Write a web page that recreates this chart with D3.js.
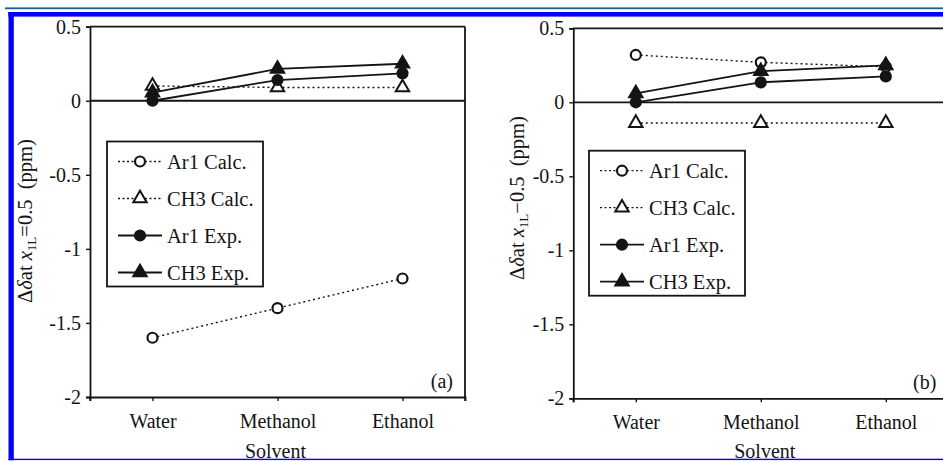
<!DOCTYPE html>
<html>
<head>
<meta charset="utf-8">
<script src="https://cdn.jsdelivr.net/npm/d3@7/dist/d3.min.js"></script>
<style>
  html, body { margin: 0; padding: 0; background: #fff; }
  svg { display: block; font-family: "Liberation Serif", "DejaVu Serif", serif; }
</style>
</head>
<body>
<div id="chart"></div>
<script>
// categories and tick values
var categories = ["Water", "Methanol", "Ethanol"];
var yTicks = [0.5, 0, -0.5, -1, -1.5, -2];
var seriesNames = ["Ar1 Calc.", "CH3 Calc.", "Ar1 Exp.", "CH3 Exp."];

// panel (a)
var ar1CalcA = [-1.6, -1.4, -1.2];
var ch3CalcA = [0.1, 0.09, 0.09];
var ar1ExpA = [0, 0.14, 0.185];
var ch3ExpA = [0.055, 0.215, 0.25];

// panel (b)
var ar1CalcB = [0.32, 0.27, 0.24];
var ch3CalcB = [-0.14, -0.14, -0.14];
var ar1ExpB = [0, 0.135, 0.175];
var ch3ExpB = [0.06, 0.21, 0.25];

var WIDTH = 943, HEIGHT = 461;
var ink = "#141414";
var fontSize = "20px";

var svg = d3.select("#chart").append("svg")
    .attr("width", WIDTH)
    .attr("height", HEIGHT);

svg.append("rect").attr("width", WIDTH).attr("height", HEIGHT).attr("fill", "#fff");

// page frame (blue rules)
svg.append("rect").attr("x", 5).attr("y", 7.4).attr("width", WIDTH - 5).attr("height", 1.8).attr("fill", "#1b5c9e");
svg.append("rect").attr("x", 8.3).attr("y", 12).attr("width", WIDTH - 8.3).attr("height", 4.6).attr("fill", "#0000ff");
svg.append("rect").attr("x", 8.5).attr("y", 12).attr("width", 5.3).attr("height", HEIGHT - 12).attr("fill", "#0000ff");

function drawPanel(opt) {
  var series = [
    {name: seriesNames[0], values: opt.ar1Calc, shape: "circle", filled: false, dotted: true},
    {name: seriesNames[1], values: opt.ch3Calc, shape: "triangle", filled: false, dotted: true},
    {name: seriesNames[2], values: opt.ar1Exp, shape: "circle", filled: true, dotted: false},
    {name: seriesNames[3], values: opt.ch3Exp, shape: "triangle", filled: true, dotted: false}
  ];

  var x = d3.scalePoint().domain(categories).range([opt.left, opt.right]).padding(0.5);
  var y = d3.scaleLinear().domain([-2, 0.5]).range([opt.bottom, opt.top]);

  var g = svg.append("g");

  // box: top and right borders
  g.append("line").attr("x1", opt.left).attr("x2", opt.right)
    .attr("y1", y(0.5)).attr("y2", y(0.5)).attr("stroke", ink).attr("stroke-width", 1.8);
  g.append("line").attr("x1", opt.right).attr("x2", opt.right)
    .attr("y1", y(0.5)).attr("y2", y(-2)).attr("stroke", ink).attr("stroke-width", 1.8);
  // zero line
  g.append("line").attr("x1", opt.left).attr("x2", opt.right)
    .attr("y1", y(0)).attr("y2", y(0)).attr("stroke", ink).attr("stroke-width", 1.8);

  // y axis
  var yAxis = g.append("g")
    .attr("transform", "translate(" + opt.left + ",0)")
    .call(d3.axisLeft(y).tickValues(yTicks).tickSize(4).tickPadding(5).tickFormat(function(d){ return String(d); }));
  yAxis.select(".domain").attr("stroke", ink).attr("stroke-width", 1.8);
  yAxis.selectAll(".tick line").attr("stroke", ink).attr("stroke-width", 1.4);
  yAxis.selectAll("text").attr("fill", ink).style("font-size", fontSize).style("font-family", "Liberation Serif");

  // x axis
  var xAxis = g.append("g")
    .attr("transform", "translate(0," + y(-2) + ")")
    .call(d3.axisBottom(x).tickSize(4).tickPadding(12));
  xAxis.select(".domain").attr("stroke", ink).attr("stroke-width", 1.8);
  xAxis.selectAll(".tick line").attr("stroke", ink).attr("stroke-width", 1.4);
  xAxis.selectAll("text").attr("fill", ink).attr("y", 31).attr("dy", null)
    .style("font-size", fontSize).style("font-family", "Liberation Serif");
  // end ticks at both ends of the category axis
  xAxis.selectAll("line.end").data(x.range()).join("line")
    .attr("class", "end").attr("x1", function(d){ return d; }).attr("x2", function(d){ return d; })
    .attr("y1", 0).attr("y2", 4).attr("stroke", ink).attr("stroke-width", 1.4);

  // x axis title
  g.append("text").attr("x", (opt.left + opt.right) / 2 + opt.solventShift).attr("y", 457.5)
    .attr("text-anchor", "middle").attr("fill", ink).style("font-size", fontSize).text("Solvent");

  // y axis title
  var yt = g.append("text")
    .attr("transform", "translate(" + opt.titleX + "," + opt.titleY + ") rotate(-90)")
    .attr("text-anchor", "middle").attr("fill", ink)
    .style("font-size", "20.5px").style("white-space", "pre");
  yt.append("tspan").text("\u0394");
  yt.append("tspan").style("font-style", "italic").text("\u03b4");
  yt.append("tspan").text("at ");
  yt.append("tspan").style("font-style", "italic").text("x");
  yt.append("tspan").attr("dy", 4).style("font-size", "13px").text("1L");
  yt.append("tspan").attr("dy", -4).text(opt.eq + "0.5  (ppm)");

  // panel letter
  g.append("text").attr("x", opt.right - 12).attr("y", y(-2) - 9)
    .attr("text-anchor", "end").attr("fill", ink).style("font-size", fontSize).text(opt.letter);

  var line = d3.line().x(function(d, i){ return x(categories[i]); }).y(function(d){ return y(d); });

  // lines: dotted calc first, then solid exp
  g.selectAll("path.series").data(series).join("path")
    .attr("class", "series")
    .attr("d", function(s){ return line(s.values); })
    .attr("fill", "none")
    .attr("stroke", ink)
    .attr("stroke-width", function(s){ return s.dotted ? 1.4 : 1.8; })
    .attr("stroke-dasharray", function(s){ return s.dotted ? "2,3" : null; });

  var tri = d3.symbol().type(d3.symbolTriangle).size(78);

  function marker(sel, s) {
    if (s.shape === "circle") {
      sel.append("circle").attr("r", 5)
        .attr("fill", s.filled ? ink : "#fff").attr("stroke", ink).attr("stroke-width", 2.2);
    } else {
      sel.append("path").attr("d", tri)
        .attr("fill", s.filled ? ink : "#fff").attr("stroke", ink).attr("stroke-width", 2)
        .attr("stroke-linejoin", "miter");
    }
  }

  series.forEach(function(s) {
    s.values.forEach(function(v, i) {
      var m = g.append("g").attr("transform", "translate(" + x(categories[i]) + "," + y(v) + ")");
      marker(m, s);
    });
  });

  // legend
  var lg = g.append("g").attr("transform", "translate(" + opt.legX + "," + opt.legY + ")");
  lg.append("rect").attr("width", 156).attr("height", 145)
    .attr("fill", "#fff").attr("stroke", ink).attr("stroke-width", 1.8);
  var row = lg.selectAll("g.row").data(series).join("g")
    .attr("class", "row")
    .attr("transform", function(s, i){ return "translate(0," + (20 + i * 37) + ")"; });
  row.append("line").attr("x1", 11).attr("x2", 55).attr("y1", 0).attr("y2", 0)
    .attr("stroke", ink)
    .attr("stroke-width", function(s){ return s.dotted ? 1.3 : 1.8; })
    .attr("stroke-dasharray", function(s){ return s.dotted ? "2,2.5" : null; });
  row.each(function(s) {
    var m = d3.select(this).append("g").attr("transform", "translate(33,0)");
    marker(m, s);
  });
  row.append("text").attr("x", 60).attr("y", 0).attr("dy", "0.35em")
    .attr("fill", ink).style("font-size", "20.5px").text(function(s){ return s.name; });
}

drawPanel({
  left: 90, right: 465, top: 26.7, bottom: 397,
  ar1Calc: ar1CalcA, ch3Calc: ch3CalcA, ar1Exp: ar1ExpA, ch3Exp: ch3ExpA,
  legX: 107, legY: 141.5, titleX: 32, titleY: 221, eq: "=", letter: "(a)", solventShift: -2
});

drawPanel({
  left: 573.3, right: 948.3, top: 28.3, bottom: 398.3,
  ar1Calc: ar1CalcB, ch3Calc: ch3CalcB, ar1Exp: ar1ExpB, ch3Exp: ch3ExpB,
  legX: 589, legY: 150.7, titleX: 524, titleY: 198, eq: "\u2212", letter: "(b)", solventShift: 4
});

// bottom blue rule drawn last so it cuts the axis titles as in the source
svg.append("rect").attr("x", 8.5).attr("y", 458.7).attr("width", WIDTH - 8.5).attr("height", 1.6).attr("fill", "#0000ff");
svg.append("rect").attr("x", 0).attr("y", 460.3).attr("width", WIDTH).attr("height", 1).attr("fill", "#fff");
</script>
</body>
</html>
